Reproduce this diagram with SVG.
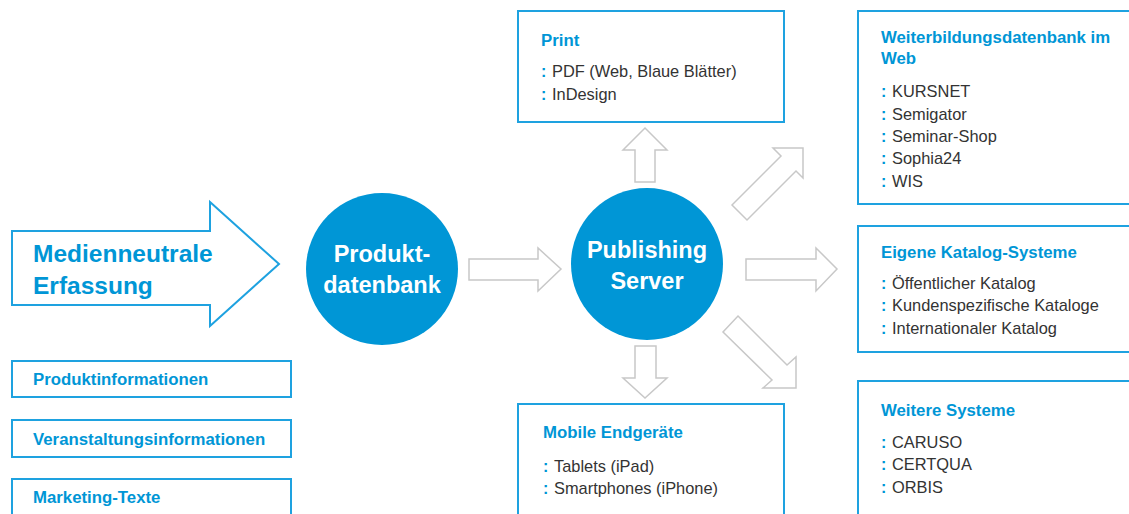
<svg xmlns="http://www.w3.org/2000/svg" width="1129" height="514" viewBox="0 0 1129 514">
<style>
.box{fill:#fff;stroke:#1ea2e0;stroke-width:2}
.arr{fill:#fff;stroke:#c8c8c8;stroke-width:1.5;stroke-linejoin:miter}
.circ{fill:#0096d6}
.ct{font-family:"Liberation Sans",Arial,sans-serif;font-weight:bold;font-size:23.5px;fill:#fff;text-anchor:middle}
.big{font-family:"Liberation Sans",Arial,sans-serif;font-weight:bold;font-size:24.5px;fill:#0096d6}
.ttl{font-family:"Liberation Sans",Arial,sans-serif;font-weight:bold;font-size:16.8px;fill:#0096d6}
.it{font-family:"Liberation Sans",Arial,sans-serif;font-size:16.4px;fill:#333}
.bl{font-family:"Liberation Sans",Arial,sans-serif;font-weight:bold;font-size:16px;fill:#0096d6}
</style>
<rect width="1129" height="514" fill="#fff"/>
<g id="connectors">
<polygon class="arr" points="469,259 538,259 538,248 561,269 538,291 538,280 469,280"/>
<polygon class="arr" points="635,182 635,150 623,150 645,128 667,150 655,150 655,182"/>
<polygon class="arr" points="635,346 656,346 656,378 667,378 645,398 623,378 635,378"/>
<polygon class="arr" points="746,259 816,259 816,248 837,269 816,291 816,280 746,280"/>
<polygon class="arr" points="732,205 781,156 773,148 803,148 803,178 796,171 747,220"/>
<polygon class="arr" points="738,316 787,365 796,357 796,388 763,388 772,380 723,332"/>
</g>
<g id="erfassung">
<polygon points="12,231 210,231 210,202 279,264 210,326 210,305 12,305" fill="#fff" stroke="#1ea2e0" stroke-width="2"/>
<text class="big" x="33" y="262">Medienneutrale</text>
<text class="big" x="33" y="294">Erfassung</text>
</g>
<g id="produktinformationen">
<rect class="box" x="12" y="361" width="279" height="36"/>
<text class="ttl" x="33" y="385">Produktinformationen</text>
</g>
<g id="veranstaltungsinformationen">
<rect class="box" x="12" y="420" width="279" height="37"/>
<text class="ttl" x="33" y="445">Veranstaltungsinformationen</text>
</g>
<g id="marketing">
<rect class="box" x="12" y="479" width="279" height="45"/>
<text class="ttl" x="33" y="503">Marketing-Texte</text>
</g>
<g id="produktdatenbank">
<circle class="circ" cx="382" cy="269" r="76"/>
<text class="ct" x="382" y="262">Produkt-</text>
<text class="ct" x="382" y="293">datenbank</text>
</g>
<g id="publishing">
<circle class="circ" cx="647" cy="264" r="76"/>
<text class="ct" x="647" y="258">Publishing</text>
<text class="ct" x="647" y="289">Server</text>
</g>
<g id="print">
<rect class="box" x="518" y="11" width="266" height="111"/>
<text class="ttl" x="541" y="46">Print</text>
<text class="bl" x="541" y="77">:</text><text class="it" x="552" y="77">PDF (Web, Blaue Blätter)</text>
<text class="bl" x="541" y="100">:</text><text class="it" x="552" y="100">InDesign</text>
</g>
<g id="mobile">
<rect class="box" x="518" y="404" width="266" height="120"/>
<text class="ttl" x="543" y="438">Mobile Endgeräte</text>
<text class="bl" x="543" y="472">:</text><text class="it" x="554" y="472">Tablets (iPad)</text>
<text class="bl" x="543" y="494">:</text><text class="it" x="554" y="494">Smartphones (iPhone)</text>
</g>
<g id="weiterbildung">
<rect class="box" x="858" y="11" width="280" height="193"/>
<text class="ttl" x="881" y="43">Weiterbildungsdatenbank im</text>
<text class="ttl" x="881" y="64">Web</text>
<text class="bl" x="881" y="97">:</text><text class="it" x="892" y="97">KURSNET</text>
<text class="bl" x="881" y="120">:</text><text class="it" x="892" y="120">Semigator</text>
<text class="bl" x="881" y="142">:</text><text class="it" x="892" y="142">Seminar-Shop</text>
<text class="bl" x="881" y="164">:</text><text class="it" x="892" y="164">Sophia24</text>
<text class="bl" x="881" y="187">:</text><text class="it" x="892" y="187">WIS</text>
</g>
<g id="katalog">
<rect class="box" x="858" y="226" width="280" height="126"/>
<text class="ttl" x="881" y="258">Eigene Katalog-Systeme</text>
<text class="bl" x="881" y="289">:</text><text class="it" x="892" y="289">Öffentlicher Katalog</text>
<text class="bl" x="881" y="311">:</text><text class="it" x="892" y="311">Kundenspezifische Kataloge</text>
<text class="bl" x="881" y="334">:</text><text class="it" x="892" y="334">Internationaler Katalog</text>
</g>
<g id="weitere">
<rect class="box" x="858" y="381" width="280" height="143"/>
<text class="ttl" x="881" y="416">Weitere Systeme</text>
<text class="bl" x="881" y="448">:</text><text class="it" x="892" y="448">CARUSO</text>
<text class="bl" x="881" y="470">:</text><text class="it" x="892" y="470">CERTQUA</text>
<text class="bl" x="881" y="493">:</text><text class="it" x="892" y="493">ORBIS</text>
</g>
</svg>
